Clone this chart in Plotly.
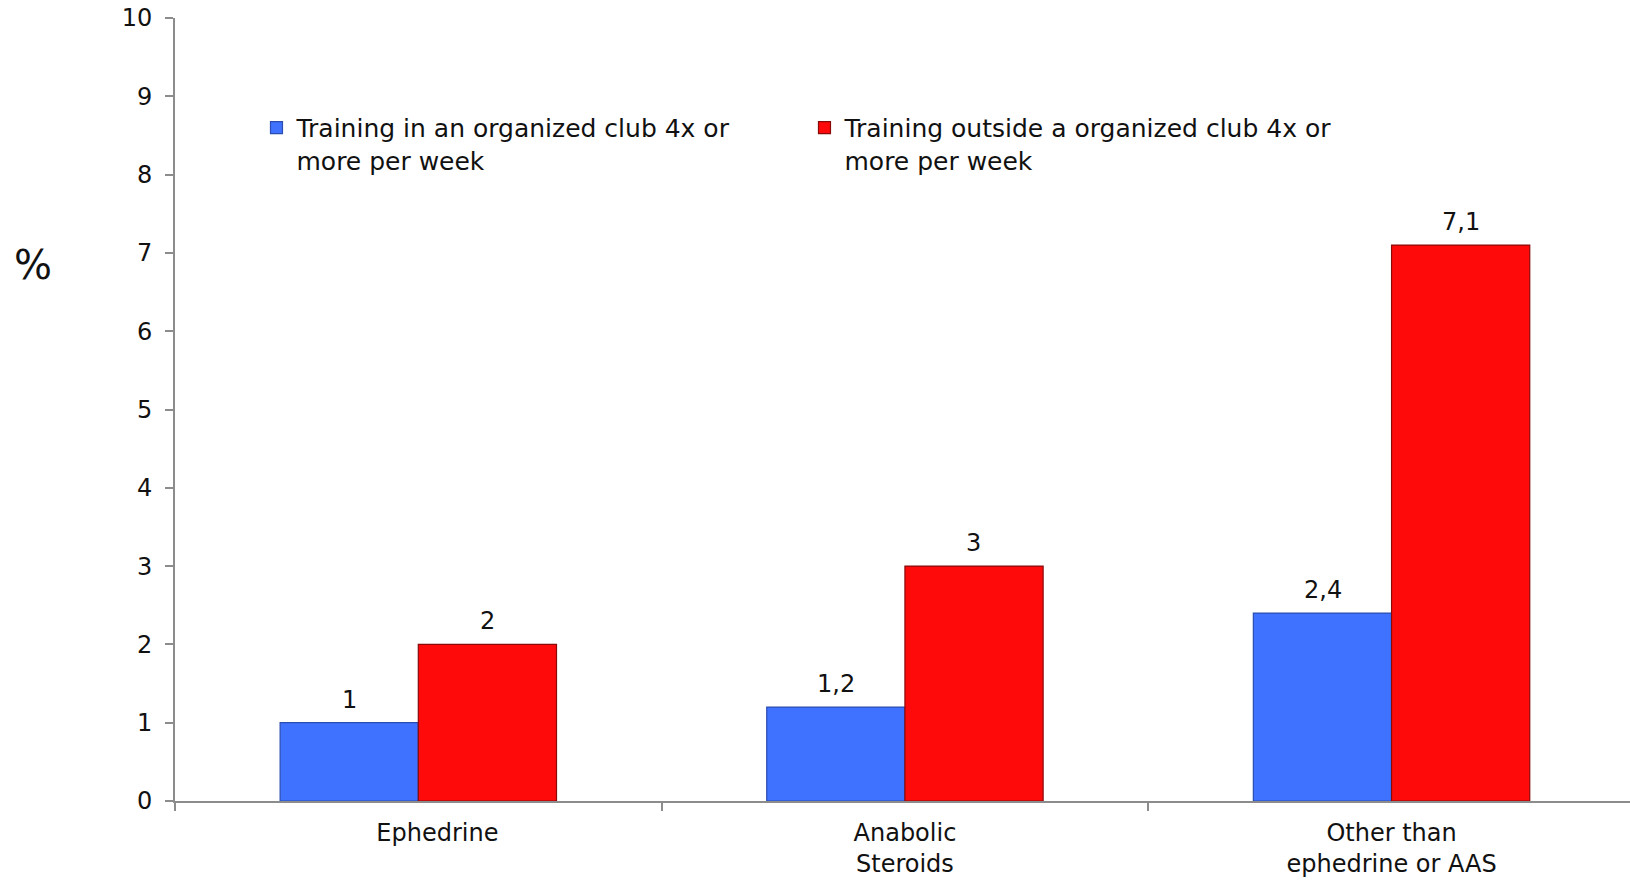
import plotly.graph_objects as go

categories = ["Ephedrine", "Anabolic<br>Steroids", "Other than<br>ephedrine or AAS"]
club_values = [1, 1.2, 2.4]
outside_values = [2, 3, 7.1]
series_names = [
    "Training in an organized club 4x or<br>more per week",
    "Training outside a organized club 4x or<br>more per week",
]
y_ticks = list(range(0, 11))
# the first category label sits a little right of its bar pair
x_tick_text = ["\u00a0" * 5 + categories[0], categories[1], categories[2]]

FONT = "Century Gothic, URW Gothic, DejaVu Sans, sans-serif"
BLUE = "#3F72FF"
RED = "#FF0A0A"


def fmt(v):
    return f"{v:g}".replace(".", ",")


fig = go.Figure()
fig.add_trace(go.Bar(
    x=categories, y=club_values, name=series_names[0],
    marker=dict(color=BLUE, line=dict(color="#2B4DB0", width=1.2)),
))
fig.add_trace(go.Bar(
    x=categories, y=outside_values, name=series_names[1],
    marker=dict(color=RED, line=dict(color="#8A0A0A", width=1.2)),
))

# value labels above each bar
annotations = []
for vals, shift in ((club_values, -69), (outside_values, 69)):
    for c, v in zip(categories, vals):
        annotations.append(dict(
            x=c, y=v, xref="x", yref="y", text=fmt(v), showarrow=False,
            xshift=shift, yshift=7, yanchor="bottom",
            font=dict(family=FONT, size=24, color="#111111"),
        ))

annotations.append(dict(
    x=-0.0976, y=0.6845, xref="paper", yref="paper", text="%",
    xanchor="center", yanchor="middle",
    showarrow=False, font=dict(family=FONT, size=40, color="#111111"),
))

fig.update_layout(
    width=1630, height=880,
    margin=dict(l=175, r=0, t=18, b=79, autoexpand=False),
    paper_bgcolor="white", plot_bgcolor="white",
    barmode="group", bargap=0.432, bargroupgap=0,
    font=dict(family=FONT, size=25, color="#111111"),
    showlegend=True,
    legend=dict(
        orientation="h", x=0.056, y=0.889, xanchor="left", yanchor="top",
        entrywidth=503, entrywidthmode="pixels", valign="top",
        font=dict(family=FONT, size=25, color="#111111"),
        bgcolor="rgba(0,0,0,0)", tracegroupgap=0,
    ),
    annotations=annotations,
    xaxis=dict(
        range=[-0.5, 2.49], automargin=False,
        tickvals=categories, ticktext=x_tick_text,
        showline=True, linecolor="#8C8C8C", linewidth=2,
        ticks="outside", tickson="boundaries", ticklen=8,
        tickcolor="#8C8C8C", tickwidth=2, ticklabelstandoff=9,
        showgrid=False, tickfont=dict(family=FONT, size=24),
    ),
    yaxis=dict(
        range=[0, 10], tickvals=y_ticks, automargin=False,
        showline=True, linecolor="#8C8C8C", linewidth=2,
        ticks="outside", ticklen=8, tickcolor="#8C8C8C", tickwidth=2,
        showgrid=False, zeroline=False, ticklabelstandoff=8,
        tickfont=dict(family=FONT, size=24),
    ),
)

fig.write_html("out.html")
